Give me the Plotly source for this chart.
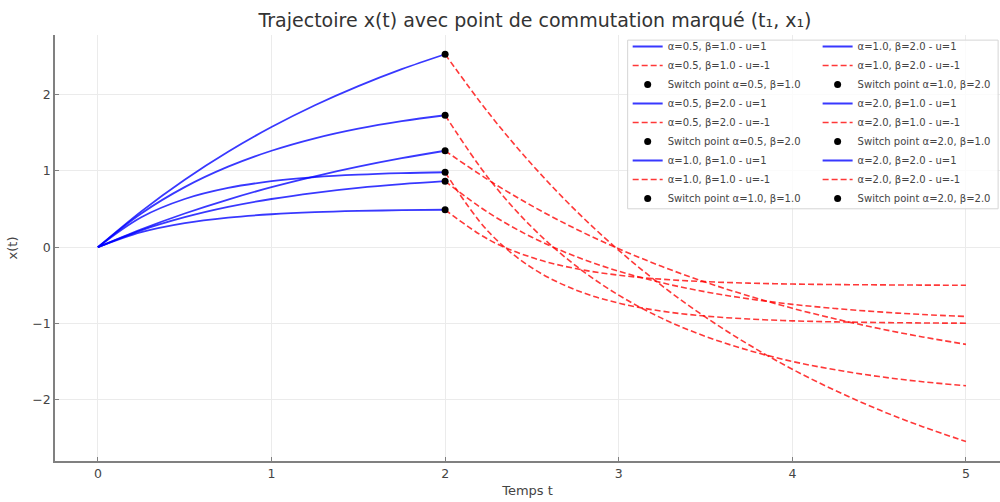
import plotly.graph_objects as go

# ---------------- data ----------------
t_phase1 = [0.0, 0.25, 0.5, 0.75, 1.0, 1.25, 1.5, 1.75, 2.0]
t_phase2 = [2.0, 2.25, 2.5, 2.75, 3.0, 3.25, 3.5, 3.75, 4.0, 4.25, 4.5, 4.75, 5.0]
t_switch = 2.0

alphas = [0.5, 0.5, 1.0, 1.0, 2.0, 2.0]
betas = [1.0, 2.0, 1.0, 2.0, 1.0, 2.0]

# u = 1 phase (0 <= t <= 2)
x_u1_a05_b1 = [0.0, 0.235, 0.442, 0.625, 0.787, 0.929, 1.055, 1.166, 1.264]
x_u1_a05_b2 = [0.0, 0.470, 0.885, 1.251, 1.574, 1.859, 2.110, 2.332, 2.528]
x_u1_a1_b1 = [0.0, 0.221, 0.393, 0.528, 0.632, 0.713, 0.777, 0.826, 0.865]
x_u1_a1_b2 = [0.0, 0.442, 0.787, 1.055, 1.264, 1.427, 1.554, 1.652, 1.729]
x_u1_a2_b1 = [0.0, 0.197, 0.316, 0.388, 0.432, 0.459, 0.475, 0.485, 0.491]
x_u1_a2_b2 = [0.0, 0.393, 0.632, 0.777, 0.865, 0.918, 0.950, 0.970, 0.982]

# u = -1 phase (2 <= t <= 5)
x_um1_a05_b1 = [1.264, 0.880, 0.542, 0.243, -0.020, -0.253, -0.458, -0.639, -0.799, -0.940, -1.065, -1.175, -1.272]
x_um1_a05_b2 = [2.528, 1.760, 1.084, 0.486, -0.040, -0.506, -0.916, -1.278, -1.598, -1.880, -2.130, -2.350, -2.544]
x_um1_a1_b1 = [0.865, 0.452, 0.131, -0.119, -0.314, -0.466, -0.584, -0.676, -0.748, -0.803, -0.847, -0.881, -0.907]
x_um1_a1_b2 = [1.729, 0.905, 0.262, -0.238, -0.628, -0.932, -1.168, -1.352, -1.496, -1.606, -1.694, -1.762, -1.814]
x_um1_a2_b1 = [0.491, 0.101, -0.135, -0.279, -0.366, -0.419, -0.451, -0.470, -0.482, -0.489, -0.493, -0.496, -0.498]
x_um1_a2_b2 = [0.982, 0.202, -0.270, -0.558, -0.732, -0.838, -0.902, -0.940, -0.964, -0.978, -0.986, -0.992, -0.995]

x_u1_all = [x_u1_a05_b1, x_u1_a05_b2, x_u1_a1_b1, x_u1_a1_b2, x_u1_a2_b1, x_u1_a2_b2]
x_um1_all = [x_um1_a05_b1, x_um1_a05_b2, x_um1_a1_b1, x_um1_a1_b2, x_um1_a2_b1, x_um1_a2_b2]

x_ticks = [0, 1, 2, 3, 4, 5]
y_ticks = [-2, -1, 0, 1, 2]

# ---------------- figure ----------------
FONT = "DejaVu Sans"
BLUE = "rgba(0,0,255,0.78)"
RED = "rgba(255,0,0,0.78)"

fig = go.Figure()

for i, (a, b) in enumerate(zip(alphas, betas)):
    leg = "legend" if i < 3 else "legend2"
    up = x_u1_all[i]
    down = x_um1_all[i]
    fig.add_trace(go.Scatter(
        x=t_phase1, y=up, mode="lines", line=dict(color=BLUE, width=1.8, shape="spline"),
        name=f"α={a}, β={b} - u=1", legend=leg))
    fig.add_trace(go.Scatter(
        x=t_phase2, y=down, mode="lines",
        line=dict(color=RED, width=1.6, dash="6px,3px", shape="spline"),
        name=f"α={a}, β={b} - u=-1", legend=leg))
    fig.add_trace(go.Scatter(
        x=[t_switch], y=[up[-1]], mode="markers",
        marker=dict(color="black", size=7),
        name=f"Switch point α={a}, β={b}", legend=leg))

legend_common = dict(
    font=dict(family=FONT, size=10, color="#444"),
    bgcolor="rgba(0,0,0,0)", borderwidth=0,
    xanchor="left", yanchor="top", itemwidth=30,
)

fig.update_layout(
    width=1000, height=502,
    margin=dict(l=55, r=0, t=35, b=41),
    paper_bgcolor="white", plot_bgcolor="white",
    font=dict(family=FONT, color="#444"),
    title=dict(text="Trajectoire x(t) avec point de commutation marqué (t₁, x₁)",
               x=0.535, xanchor="center", y=0.96, yanchor="middle",
               font=dict(family=FONT, size=19, color="#333")),
    legend=dict(x=0.606, y=1.007, **legend_common),
    legend2=dict(x=0.807, y=1.007, **legend_common),
    shapes=[dict(type="rect", xref="paper", yref="paper",
                 x0=0.606, x1=0.998, y0=0.592, y1=0.988,
                 line=dict(color="#d5d5d5", width=1),
                 fillcolor="rgba(255,255,255,0.8)", layer="above")],
)

fig.update_xaxes(
    range=[-0.247, 5.196], tickvals=x_ticks, ticktext=[str(v) for v in x_ticks],
    showgrid=True, gridcolor="#ebebeb", gridwidth=1, zeroline=False,
    showline=True, linecolor="#808080", linewidth=1.5, mirror=False,
    ticks="inside", ticklen=4, tickcolor="#808080",
    tickfont=dict(family=FONT, size=12.5, color="#444"),
    title=dict(text="Temps t", font=dict(family=FONT, size=13, color="#444"), standoff=6),
)
fig.update_yaxes(
    range=[-2.80, 2.78], tickvals=y_ticks, ticktext=[str(v).replace("-", "−") for v in y_ticks],
    showgrid=True, gridcolor="#ebebeb", gridwidth=1, zeroline=False,
    showline=True, linecolor="#808080", linewidth=1.5, mirror=False,
    ticks="inside", ticklen=4, tickcolor="#808080",
    tickfont=dict(family=FONT, size=12.5, color="#444"),
    title=dict(text="x(t)", font=dict(family=FONT, size=13, color="#444"), standoff=12),
)

fig.write_html(
    "out.html",
    config={"displayModeBar": False},
    post_script="document.body.style.margin='0';document.body.style.overflow='hidden';",
)
